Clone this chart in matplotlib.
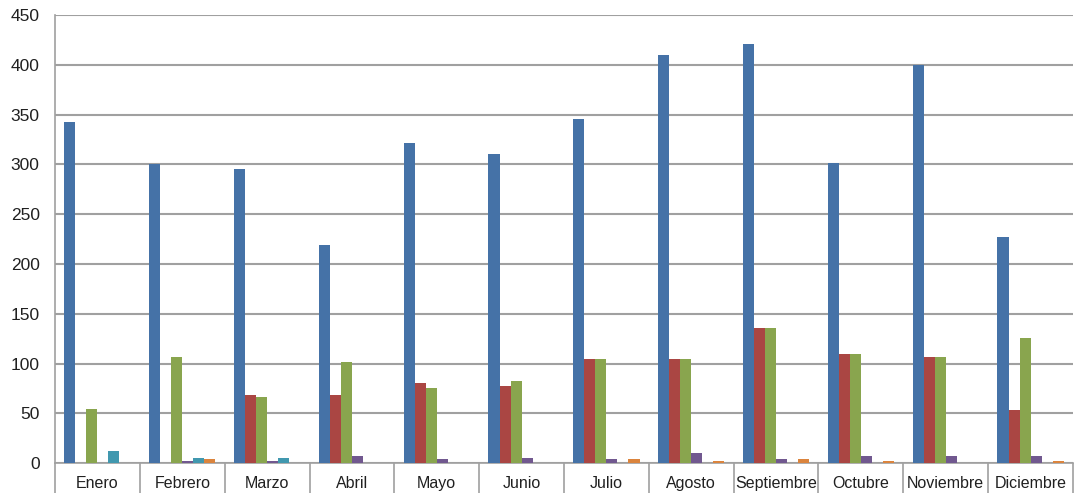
import numpy as np
import matplotlib.pyplot as plt

# months and the six series
meses = ["Enero", "Febrero", "Marzo", "Abril", "Mayo", "Junio", "Julio",
         "Agosto", "Septiembre", "Octubre", "Noviembre", "Diciembre"]

serie_azul = [343, 300, 295, 219, 322, 310, 346, 410, 421, 301, 400, 227]
serie_roja = [0, 0, 69, 69, 81, 78, 105, 105, 136, 110, 107, 54]
serie_verde = [55, 107, 67, 102, 76, 83, 105, 105, 136, 110, 107, 126]
serie_morada = [0, 2, 2, 7, 4, 5, 4, 10, 4, 7, 7, 7]
serie_cian = [12, 5, 5, 0, 0, 0, 0, 0, 0, 0, 0, 0]
serie_naranja = [0, 4, 0, 0, 0, 0, 4, 2, 4, 2, 0, 2]

series = [serie_azul, serie_roja, serie_verde, serie_morada, serie_cian, serie_naranja]
colores = ["#4572A7", "#AA4643", "#89A54E", "#71588F", "#4198AF", "#DB843D"]

plt.rcParams['font.family'] = ['Liberation Sans Narrow', 'Liberation Sans', 'DejaVu Sans']

fig = plt.figure(figsize=(10.78, 4.93), dpi=100)
ax = fig.add_axes([55 / 1078, (493 - 463.3) / 493, (1073 - 55) / 1078, (463.3 - 15) / 493])

x = np.arange(len(meses))
ancho = 0.13
n = len(series)
for i, (vals, col) in enumerate(zip(series, colores)):
    off = (i - (n - 1) / 2) * ancho
    ax.bar(x + off, vals, width=ancho, color=col, linewidth=0, zorder=3)

ax.set_xlim(-0.5, len(meses) - 0.5)
ax.set_ylim(0, 450)
ax.set_yticks(np.arange(0, 451, 50))
ax.grid(axis="y", color="#a0a0a0", linewidth=1.5, zorder=0)

ax.set_xticks(x)
ax.set_xticklabels(meses, fontsize=11.5, color="#202020")
ax.set_xticks(np.arange(-0.5, len(meses)), minor=True)
ax.tick_params(axis="x", which="major", length=0, pad=9)
ax.tick_params(axis="x", which="minor", length=22, width=1.2, color="#a0a0a0", direction="out")
ax.tick_params(axis="y", length=0, pad=11, labelsize=12.5, labelcolor="#202020")

for s in ["top", "right"]:
    ax.spines[s].set_visible(False)
for s in ["left", "bottom"]:
    ax.spines[s].set_color("#a0a0a0")
    ax.spines[s].set_linewidth(1.2)

fig.savefig("out.png", dpi=100)
